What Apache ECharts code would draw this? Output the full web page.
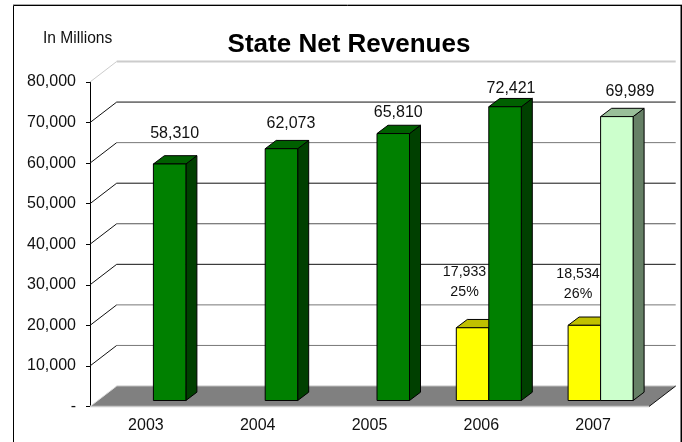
<!DOCTYPE html>
<html><head><meta charset="utf-8">
<style>html,body{margin:0;padding:0;background:#fff}#c{width:682px;height:442px}</style>
<script src="https://cdn.jsdelivr.net/npm/echarts@6/dist/echarts.min.js"></script>
</head><body><div id="c"></div>
<script>
var categories = ['2003','2004','2005','2006','2007'];
var actualTotals = [58310, 62073, 65810, 72421, null];
var latestTotals = [null, null, null, null, 69989];
var partials = [null, null, null, 17933, 18534];
var partialShare = ['', '', '', '25%', '26%'];
var gridValues = [10000,20000,30000,40000,50000,60000,70000,80000];
var gridColors = ['#777','#777','#111','#555','#111','#777','#111','#ccc'];
var totalLabelShiftX = [5, 9.5, 5, 6, 13];
var totalLabelShiftY = [30.5, 25, 21, 18, 24.6];
var partialLabelShiftX = [0, 0, 0, -8, -6.3];
var partialLabelShiftY = [0, 0, 0, 45.3, 41.7];

var FONT = '"Liberation Sans", Arial, sans-serif';
var fmt = function(v){ return String(v).replace(/\B(?=(\d{3})+$)/g, ','); };
var WALL_X = 26.7, WALL_Y = 20.5, BAR_DX = 11, BAR_DY = 8.3, BASE_X = 7.5, BASE_Y = 6, BAR_W = 32.5;

function wallItem(params, api){
  var cs = params.coordSys;
  var v = api.value(1);
  var y = api.coord([0, v])[1];
  var x0 = cs.x, x1 = cs.x + cs.width;
  var last = v === 80000;
  return {type:'group', children:[
    {type:'line', shape:{x1:x0,y1:y,x2:x0+WALL_X,y2:y-WALL_Y}, style:{stroke:last?'#ccc':'#111',lineWidth:1}},
    {type:'line', shape:{x1:x0+WALL_X,y1:y-WALL_Y,x2:x1+WALL_X,y2:y-WALL_Y},
      style:{stroke:gridColors[params.dataIndex],lineWidth:last?2:1}}
  ]};
}
function floorItem(params, api){
  var cs = params.coordSys, y = cs.y + cs.height, x0 = cs.x, x1 = cs.x + cs.width;
  return {type:'group', children:[
    {type:'polygon', shape:{points:[[x0,y],[x1,y],[x1+WALL_X,y-WALL_Y],[x0+WALL_X,y-WALL_Y]]},
     style:{fill:'#808080', stroke:null}},
    {type:'line', shape:{x1:x0+WALL_X,y1:y-WALL_Y,x2:x1+WALL_X,y2:y-WALL_Y}, style:{stroke:'#c0c0c0',lineWidth:1}},
    {type:'line', shape:{x1:x0,y1:y,x2:x1,y2:y}, style:{stroke:'#c8c8c8',lineWidth:1.5}},
    {type:'line', shape:{x1:x0,y1:y,x2:x0+WALL_X,y2:y-WALL_Y}, style:{stroke:'#ddd',lineWidth:1}},
    {type:'line', shape:{x1:x1,y1:y,x2:x1+WALL_X,y2:y-WALL_Y}, style:{stroke:'#111',lineWidth:1}}
  ]};
}
function barRenderer(slot, front, top, side, labelMode){
  return function(params, api){
    var v = api.value(1);
    if (v == null || isNaN(v)) return;
    var i = params.dataIndex;
    var p = api.coord([api.value(0), v]);
    var z = api.coord([api.value(0), 0]);
    var l = p[0] + slot, r = l + BAR_W, b = z[1] - BASE_Y, t = p[1] - BASE_Y;
    var line = {stroke:'#000', lineWidth:1, lineJoin:'round'};
    var kids = [
      {type:'polygon', shape:{points:[[r,t],[r+BAR_DX,t-BAR_DY],[r+BAR_DX,b-BAR_DY],[r,b]]}, style:Object.assign({fill:side},line)},
      {type:'polygon', shape:{points:[[l,t],[l+BAR_DX,t-BAR_DY],[r+BAR_DX,t-BAR_DY],[r,t]]}, style:Object.assign({fill:top},line)},
      {type:'rect', shape:{x:l,y:t,width:BAR_W,height:b-t}, style:Object.assign({fill:front},line)}
    ];
    if (labelMode === 'total') {
      kids.push({type:'text', z2:10, style:{text:fmt(v), x:l+BAR_W/2+totalLabelShiftX[i], y:t-totalLabelShiftY[i],
        align:'center', verticalAlign:'middle', font:'16px '+FONT, fill:'#111'}});
    } else {
      kids.push({type:'text', z2:10, style:{text:fmt(v)+'\n'+partialShare[i], x:l+BAR_W/2+partialLabelShiftX[i], y:t-partialLabelShiftY[i],
        align:'center', verticalAlign:'middle', font:'14.2px '+FONT, lineHeight:20, fill:'#111'}});
    }
    return {type:'group', children:kids};
  };
}
function pairs(arr){ return arr.map(function(v,i){ return [i, v]; }); }

var chart = echarts.init(document.getElementById('c'), null, {renderer:'canvas'});
chart.setOption({
  animation:false,
  backgroundColor:'#fff',
  title:{text:'State Net Revenues', left:349, top:27, textAlign:'center',
    textStyle:{fontFamily:FONT, fontSize:26, fontWeight:'bold', color:'#000'}},
  graphic:[
    {type:'line', shape:{x1:13,y1:4.5,x2:682,y2:4.5}, style:{stroke:'#aaa',lineWidth:1}},
    {type:'polyline', shape:{points:[[13.5,442],[13.5,5.5],[681,5.5],[681,442]]}, style:{stroke:'#000',lineWidth:1}},
    {type:'line', shape:{x1:681.5,y1:5,x2:681.5,y2:442}, style:{stroke:'#000',lineWidth:1}},
    {type:'text', style:{text:'In Millions', x:43, y:38.5, verticalAlign:'middle', font:'15.6px '+FONT, fill:'#111'}}
  ],
  grid:{left:90, top:82, width:559, height:324.5},
  xAxis:{type:'category', data:categories, boundaryGap:true,
    axisLine:{show:false}, axisTick:{show:false},
    axisLabel:{color:'#111', fontFamily:FONT, fontSize:16, margin:11}},
  yAxis:{type:'value', min:0, max:80000, interval:10000, splitLine:{show:false},
    axisLine:{show:true, lineStyle:{color:'#000', width:1}},
    axisTick:{show:true, length:4, lineStyle:{color:'#000'}},
    axisLabel:{color:'#111', fontFamily:FONT, fontSize:16, margin:14,
      formatter:function(v){ return v === 0 ? '-' : fmt(v); }}},
  series:[
    {type:'custom', name:'Grid', coordinateSystem:'cartesian2d', silent:true, z:1, renderItem:wallItem,
      data:gridValues.map(function(v){ return [0, v]; }), encode:{x:0,y:1}},
    {type:'custom', name:'Floor', coordinateSystem:'cartesian2d', silent:true, z:2, renderItem:floorItem,
      data:[[0,0]], encode:{x:0,y:1}},
    {type:'custom', name:'Partial', coordinateSystem:'cartesian2d', z:3,
      renderItem:barRenderer(-BAR_W+BASE_X, '#ffff00', '#c0c000', '#808000', 'partial'),
      data:pairs(partials), encode:{x:0,y:1}},
    {type:'custom', name:'Total', coordinateSystem:'cartesian2d', z:4,
      renderItem:barRenderer(BASE_X, '#008000', '#006000', '#004000', 'total'),
      data:pairs(actualTotals), encode:{x:0,y:1}},
    {type:'custom', name:'Latest', coordinateSystem:'cartesian2d', z:4,
      renderItem:barRenderer(BASE_X, '#ccffcc', '#99bf99', '#668066', 'total'),
      data:pairs(latestTotals), encode:{x:0,y:1}}
  ]
});
chart.setOption({title:{left:344}});
</script></body></html>
